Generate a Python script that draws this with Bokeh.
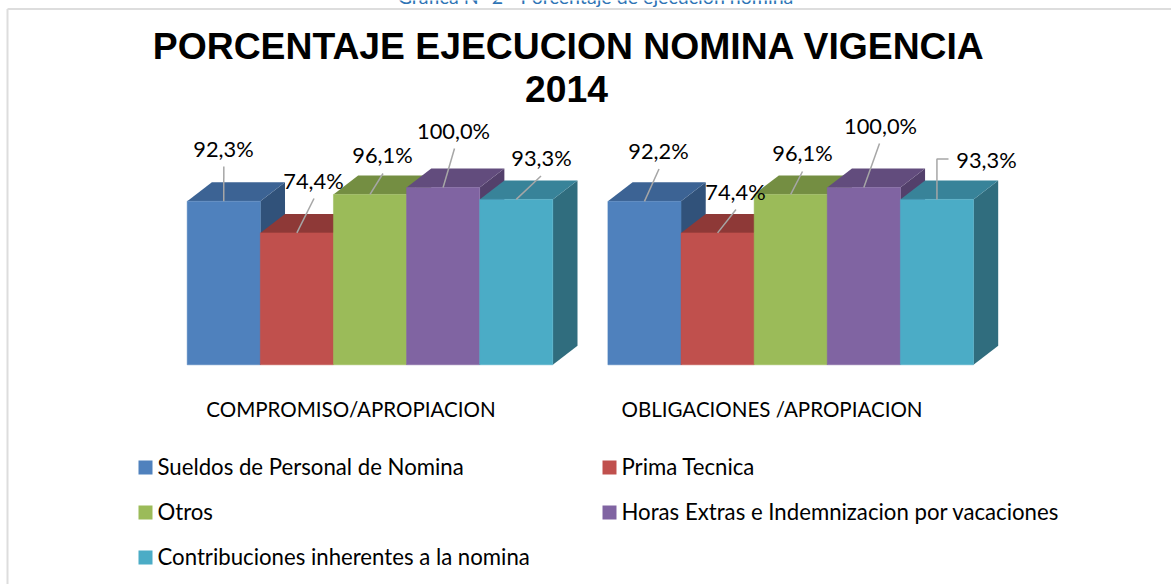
from bokeh.plotting import figure
from bokeh.embed import file_html
from bokeh.resources import INLINE
from bokeh.core.properties import value
from bokeh.models import Range1d

title_lines = ["PORCENTAJE EJECUCION NOMINA VIGENCIA", "2014"]
caption = "Gráfica N° 2 - Porcentaje de ejecución nomina"
groups = ["COMPROMISO/APROPIACION", "OBLIGACIONES /APROPIACION"]
series = ["Sueldos de Personal de Nomina", "Prima Tecnica", "Otros",
          "Horas Extras e Indemnizacion por vacaciones",
          "Contribuciones inherentes a la nomina"]
compromiso = [92.3, 74.4, 96.1, 100.0, 93.3]
obligaciones = [92.2, 74.4, 96.1, 100.0, 93.3]
front = ["#4F81BD", "#C0504D", "#9BBB59", "#8064A2", "#4BACC6"]
top = ["#3C6394", "#8E3937", "#748E42", "#624C7D", "#388399"]
side = ["#31527A", "#8E3937", "#748E42", "#53406B", "#306D7E"]

W, H = 1171, 584
BASE_PX, PCT_PX = 364.3, 1.773
X0_PX = [186.7, 607.4]
BAR_PX = 73.12
DX, DY = 24.7, 19.0

p = figure(width=W, height=H, output_backend="svg", toolbar_location=None,
           x_range=Range1d(0, W),
           y_range=Range1d(-(H - BASE_PX) / PCT_PX, BASE_PX / PCT_PX),
           min_border=0, outline_line_color=None)
p.xaxis.visible = False
p.yaxis.visible = False
p.grid.visible = False
p.background_fill_color = "white"

def yv(px):
    return (BASE_PX - px) / PCT_PX

LBL = "Lato"
# label centre and leader end, in picture px
labels_px = [
    [(223, 147.5), (313, 179.5), (382, 153.5), (453, 129.5), (541, 156.5)],
    [(658, 149.5), (735, 190.5), (802, 151.5), (880, 124.5), (986, 158.5)],
]
leader_px = [
    [(223.3, 166), (313.5, 198), (382.5, 173), (454, 148), (540.5, 175.5)],
    [(658.5, 168.5), (735.5, 209), (802, 171), (879, 143), (948, 158.5)],
]

dy = DY / PCT_PX
for g, vals in enumerate([compromiso, obligaciones]):
    for i, v in enumerate(vals):
        x0 = X0_PX[g] + i * BAR_PX
        x1 = x0 + BAR_PX
        p.patch([x1, x1 + DX, x1 + DX, x1], [0, dy, v + dy, v], color=side[i], line_width=0)
        p.patch([x0, x1, x1 + DX, x0 + DX], [v, v, v + dy, v + dy], color=top[i], line_width=0)
        p.quad(left=x0, right=x1, bottom=0, top=v, fill_color=front[i], line_color=front[i], line_width=0.5)
    for i, v in enumerate(vals):
        xc = X0_PX[g] + (i + 0.5) * BAR_PX
        ex, ey = leader_px[g][i]
        if g == 1 and i == 4:
            xs, ys = [xc, xc, ex], [v, yv(ey), yv(ey)]
        else:
            xs, ys = [xc, ex], [v, yv(ey)]
        p.line(xs, ys, line_color="#A6A6A6", line_width=1.5)
    for i, v in enumerate(vals):
        lx, ly = labels_px[g][i]
        p.text([lx], [yv(ly)], text=[f"{v:.1f}%".replace(".", ",")],
               text_font=value(LBL), text_font_size="21.8px", text_color="#000000",
               text_align="center", text_baseline="middle")

# chart frame
p.line([7, 7], [yv(H), yv(8.5)], line_color="#DDDDDD", line_width=2)
p.line([7, W], [yv(8.5), yv(8.5)], line_color="#DDDDDD", line_width=2)

# caption and title
p.text([595], [yv(-4)], text=[caption], text_font=value(LBL), text_font_size="19.6px",
       text_color="#2E74B5", text_align="center", text_baseline="alphabetic")
for t, (cx, cy) in zip(title_lines, [(568.5, 45.5), (566, 88)]):
    p.text([cx], [yv(cy)], text=[t], text_font=value("Liberation Sans"), text_font_style="bold",
           text_font_size="37.3px", text_color="#000000", text_align="center", text_baseline="middle")

# category labels
for t, cx in zip(groups, [350.5, 771.5]):
    p.text([cx], [yv(408)], text=[t], text_font=value(LBL), text_font_size="20.55px",
           text_color="#000000", text_align="center", text_baseline="middle")

# legend
legend_px = [(138, 467), (602, 467), (138, 512), (602, 512), (138, 557)]
for name, col, (sx, sy) in zip(series, front, legend_px):
    p.quad(left=sx, right=sx + 14, bottom=yv(sy + 7), top=yv(sy - 7), fill_color=col, line_width=0)
    p.text([sx + 19], [yv(sy - 1.5)], text=[name], text_font=value(LBL), text_font_size="22.2px",
           text_color="#000000", text_align="left", text_baseline="middle")

template = """{% block postamble %}<style>html,body{margin:0;padding:0}</style>{% endblock %}
"""
open("out.html", "w").write(file_html(p, INLINE, template=template))
